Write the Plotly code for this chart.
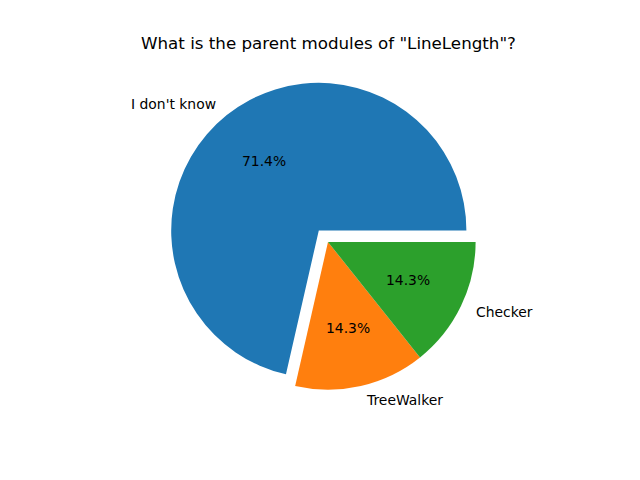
import math
import plotly.graph_objects as go

labels = ["I don't know", "TreeWalker", "Checker"]
values = [5, 1, 1]
colors = ["#1f77b4", "#ff7f0e", "#2ca02c"]
explode = [0.1, 0, 0]
title = 'What is the parent modules of "LineLength"?'

W, H = 640, 480
cx, cy, R = 328.0, 242.0, 147.6  # pie centre / radius in pixels
max_pull = max(explode)
half = R * (1 + max_pull)
total = sum(values)

# plotly counterclockwise: rotation marks the end of the first slice;
# we want the first slice to start at 3 o'clock (matplotlib startangle=0)
rotation = 90 - 360 * values[0] / total

fig = go.Figure(go.Pie(
    labels=labels, values=values, sort=False,
    direction="counterclockwise", rotation=rotation,
    pull=explode,
    marker=dict(colors=colors, line=dict(width=0)),
    textinfo="none", hoverinfo="label+percent",
    domain=dict(x=[(cx - half) / W, (cx + half) / W],
                y=[(H - cy - half) / H, (H - cy + half) / H]),
))

annotations = []
cum = 0.0
font = dict(family="DejaVu Sans", size=13.9, color="black")
for lab, v, ex in zip(labels, values, explode):
    frac = v / total
    mid = math.radians(360 * (cum + frac / 2))
    cum += frac
    ox = cx + ex * R * math.cos(mid)
    oy = cy - ex * R * math.sin(mid)
    lx = ox + 1.1 * R * math.cos(mid)
    ly = oy - 1.1 * R * math.sin(mid)
    annotations.append(dict(
        x=lx / W, y=1 - ly / H, xref="paper", yref="paper", text=lab,
        showarrow=False, xanchor="left" if math.cos(mid) > 0 else "right",
        yanchor="middle", font=font))
    px = ox + 0.6 * R * math.cos(mid)
    py = oy - 0.6 * R * math.sin(mid)
    annotations.append(dict(
        x=px / W, y=1 - py / H, xref="paper", yref="paper",
        text=f"{100 * frac:.1f}%", showarrow=False,
        xanchor="center", yanchor="middle", font=font))

annotations.append(dict(
    x=cx / W, y=1 - 55 / H, xref="paper", yref="paper", text=title,
    showarrow=False, xanchor="center", yanchor="bottom",
    font=dict(family="DejaVu Sans", size=16.7, color="black")))

fig.update_layout(
    width=W, height=H, margin=dict(l=0, r=0, t=0, b=0),
    paper_bgcolor="white", plot_bgcolor="white",
    showlegend=False, annotations=annotations,
)

fig.write_html("out.html", config={"displayModeBar": False},
               post_script="document.body.style.margin='0';")
